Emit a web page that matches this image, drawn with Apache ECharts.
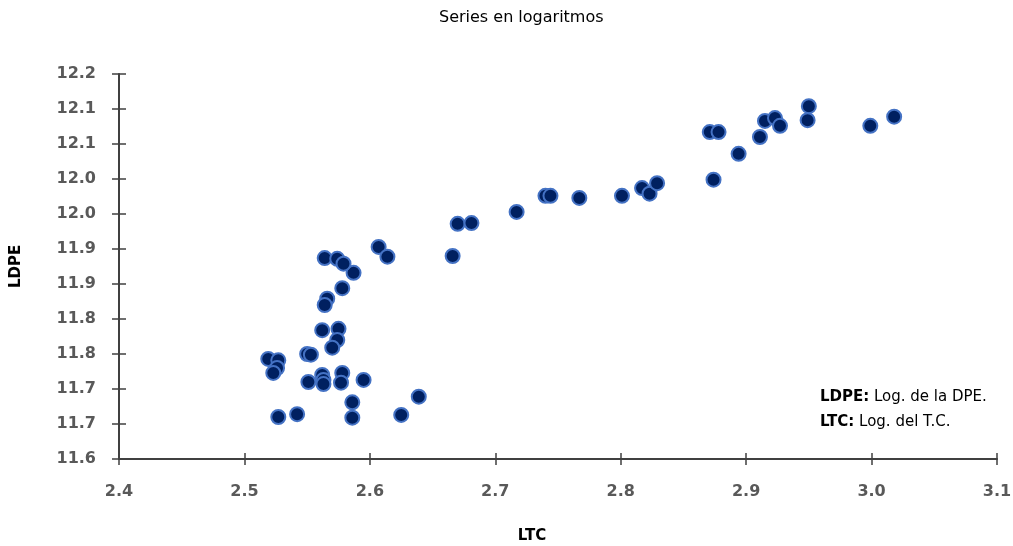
<!DOCTYPE html>
<html>
<head>
<meta charset="utf-8">
<script src="https://cdn.jsdelivr.net/npm/echarts@6/dist/echarts.min.js"></script>
<style>
  html, body { margin: 0; padding: 0; background: #fff; }
  #chart { width: 1013px; height: 546px; }
</style>
</head>
<body>
<div id="chart"></div>
<script>
// LTC (x) and LDPE (y)
const ltc = [
  2.871, 2.878, 2.874, 2.894, 2.911, 2.915, 2.923, 2.927, 2.950, 2.949, 2.999, 3.018,
  2.801, 2.817, 2.823, 2.829, 2.767, 2.740, 2.744, 2.717, 2.670, 2.681, 2.666,
  2.607, 2.614, 2.587, 2.564, 2.574, 2.579, 2.578, 2.566, 2.564,
  2.562, 2.575, 2.574, 2.570,
  2.519, 2.527, 2.526, 2.523, 2.550, 2.553,
  2.551, 2.562, 2.563, 2.563, 2.578, 2.577, 2.595,
  2.586, 2.586, 2.527, 2.542, 2.639, 2.625
]
const ldpe = [
  12.067, 12.067, 11.999, 12.036, 12.060, 12.083, 12.087, 12.076, 12.104, 12.084, 12.076, 12.089,
  11.976, 11.987, 11.979, 11.994, 11.973, 11.976, 11.976, 11.953, 11.936, 11.937, 11.890,
  11.903, 11.889, 11.866, 11.887, 11.886, 11.879, 11.844, 11.829, 11.820,
  11.784, 11.786, 11.770, 11.759,
  11.743, 11.741, 11.730, 11.723, 11.750, 11.749,
  11.710, 11.720, 11.713, 11.707, 11.723, 11.709, 11.713,
  11.681, 11.659, 11.660, 11.664, 11.689, 11.663
]
// the source axis shows its 0.05 steps rounded to one decimal
const yTickLabels = ['11.6', '11.7', '11.7', '11.8', '11.8', '11.9', '11.9', '12.0', '12.0', '12.1', '12.1', '12.2']
const xTickLabels = ['2.4', '2.5', '2.6', '2.7', '2.8', '2.9', '3.0', '3.1']

const font = '"DejaVu Sans", sans-serif'
const axisColor = '#404040'
const labelColor = '#595959'

const chart = echarts.init(document.getElementById('chart'))

const baseX = {
  type: 'value',
  position: 'bottom',
  min: 2.4,
  max: 3.1,
  interval: 0.1,
  splitLine: { show: false }
}
const baseY = {
  type: 'value',
  position: 'left',
  min: 11.6,
  max: 12.15,
  interval: 0.05,
  splitLine: { show: false }
}
const boldText = { fontFamily: font, fontSize: 15, fontWeight: 'bold', color: '#000' }
const legendRich = { b: { fontWeight: 'bold', fontFamily: font, fontSize: 15, fill: '#000' } }

chart.setOption({
  animation: false,
  backgroundColor: '#fff',
  textStyle: { fontFamily: font },
  title: {
    text: 'Series en logaritmos',
    left: 434,
    top: 5,
    textStyle: { fontFamily: font, fontSize: 16, fontWeight: 'normal', color: '#000' }
  },
  grid: { left: 119, right: 16, top: 74, bottom: 87, containLabel: false, outerBoundsMode: 'none' },
  xAxis: [
    Object.assign({}, baseX, {
      name: 'LTC',
      nameLocation: 'middle',
      nameGap: 70,
      nameTextStyle: Object.assign({ padding: [0, 52, 0, 0] }, boldText),
      axisLine: { lineStyle: { color: axisColor, width: 2 } },
      axisTick: { length: 6, lineStyle: { color: axisColor, width: 1.5 } },
      axisLabel: {
        margin: 25,
        fontFamily: font, fontSize: 16, fontWeight: 'bold', color: labelColor,
        formatter: v => xTickLabels[Math.round((v - 2.4) / 0.1)]
      }
    }),
    Object.assign({}, baseX, {
      axisLine: { show: false },
      axisTick: { inside: true, length: 6, lineStyle: { color: axisColor, width: 1.5 } },
      axisLabel: { show: false }
    })
  ],
  yAxis: [
    Object.assign({}, baseY, {
      name: 'LDPE',
      nameLocation: 'middle',
      nameGap: 95,
      nameTextStyle: boldText,
      axisLine: { show: true, lineStyle: { color: axisColor, width: 2 } },
      axisTick: { show: true, length: 7, lineStyle: { color: axisColor, width: 1.5 } },
      axisLabel: {
        margin: 23,
        fontFamily: font, fontSize: 16, fontWeight: 'bold', color: labelColor,
        formatter: v => yTickLabels[Math.round((v - 11.6) / 0.05)]
      }
    }),
    Object.assign({}, baseY, {
      axisLine: { show: false },
      axisTick: { show: true, inside: true, length: 7, lineStyle: { color: axisColor, width: 1.5 } },
      axisLabel: { show: false }
    })
  ],
  graphic: [
    {
      type: 'text',
      left: 820,
      top: 390,
      style: {
        text: '{b|LDPE:} Log. de la DPE.',
        rich: legendRich,
        fontFamily: font, fontSize: 15, fill: '#000'
      }
    },
    {
      type: 'text',
      left: 820,
      top: 415,
      style: {
        text: '{b|LTC:} Log. del T.C.',
        rich: legendRich,
        fontFamily: font, fontSize: 15, fill: '#000'
      }
    }
  ],
  series: [
    {
      type: 'scatter',
      xAxisIndex: 0,
      yAxisIndex: 0,
      symbolSize: 14,
      itemStyle: { color: '#002060', borderColor: '#4472C4', borderWidth: 2, opacity: 1 },
      data: ltc.map((x, i) => [x, ldpe[i]])
    }
  ]
})
</script>
</body>
</html>
